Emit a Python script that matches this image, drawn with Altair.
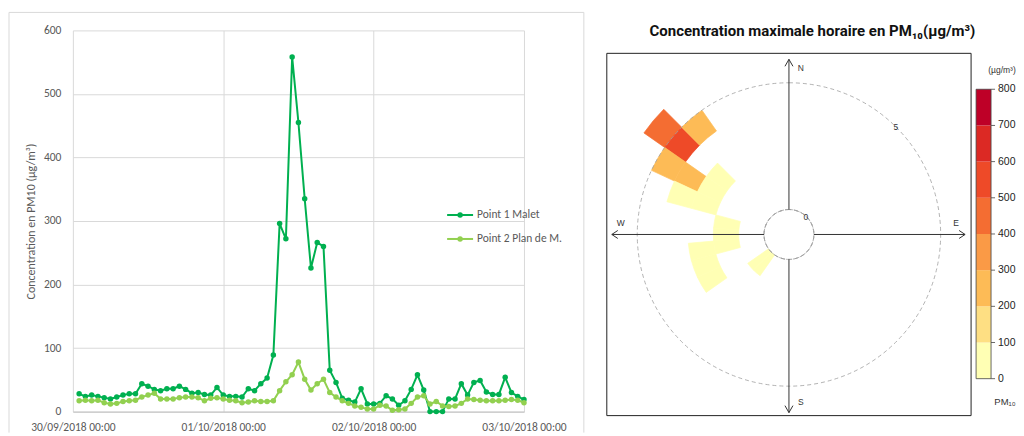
import math
import altair as alt
import pandas as pd

# ---------------- data ----------------
first_hour = "2018-09-30 01:00"
n_hours = 72
series_names = ["Point 1 Malet", "Point 2 Plan de M."]
series_colors = ["#00B050", "#92D050"]
malet = [28, 24, 26, 24, 22, 20, 23, 26, 28, 28, 44, 40, 35, 33, 36, 36, 40, 35, 29, 30, 27, 26, 38, 26,
         24, 24, 23, 36, 33, 44, 53, 89, 296, 272, 558, 455, 335, 226, 266, 260, 65, 46, 21, 18, 15, 36, 12, 12,
         13, 25, 20, 10, 17, 35, 58, 34, 0, 0, 0, 20, 20, 44, 26, 46, 49, 31, 27, 27, 54, 30, 24, 19]
plan = [17, 18, 17, 18, 14, 12, 13, 16, 17, 18, 23, 26, 29, 20, 20, 20, 22, 23, 23, 22, 17, 21, 22, 20,
        18, 17, 14, 15, 17, 16, 16, 17, 33, 47, 58, 78, 51, 34, 44, 51, 30, 23, 17, 13, 9, 7, 4, 4,
        10, 9, 2, 3, 4, 13, 23, 25, 12, 16, 9, 8, 9, 13, 20, 19, 18, 17, 17, 17, 18, 19, 18, 14]
y_ticks = [0, 100, 200, 300, 400, 500, 600]
day_ticks_md = [(9, 30), (10, 1), (10, 2), (10, 3)]

# polar (rose) cells: wind direction bin, wind speed bin, max hourly PM10
dir_lo = [305, 305, 315, 295, 295, 305, 295, 285, 285, 255, 265, 275, 235, 245, 255, 215, 225]
dir_hi = [315, 315, 325, 305, 305, 315, 305, 295, 295, 265, 275, 285, 245, 255, 265, 225, 235]
ws_lo = [5, 4, 4, 4, 3, 2, 2, 2, 3, 1, 1, 1, 2, 2, 2, 0, 0]
ws_hi = [6, 5, 5, 5, 4, 3, 3, 3, 4, 2, 2, 2, 3, 3, 3, 1, 1]
conc = [450, 550, 250, 250, 250, 50, 50, 50, 50, 50, 50, 50, 50, 50, 50, 50, 50]
ring_ws = [0, 5]
ring_labels = ["0", "5"]
class_breaks = [100, 200, 300, 400, 500, 600, 700]
class_colors = ["#FFFFB4", "#FEDF83", "#FDBB56", "#FA9A46", "#F46D32", "#EE4A28", "#DC2924", "#BE0027"]
cb_ticks = [0, 100, 200, 300, 400, 500, 600, 700, 800]

# ---------------- layout constants ----------------
W, H = 452, 382
CX, CY = 717.5, 204.5
FONT_XL = "Carlito, Calibri, Roboto, sans-serif"
FONT_R = "Liberation Sans, Arial, sans-serif"
GREY = "#595959"
DARK = "#333333"

times = pd.date_range(first_hour, periods=n_hours, freq="h").strftime("%Y-%m-%dT%H:%M:%S").tolist()
day_ticks = [alt.DateTime(year=2018, month=m, date=d) for (m, d) in day_ticks_md]
one = pd.DataFrame({"k": [0]})

x_enc = alt.X(
    "time:T", title=None,
    scale=alt.Scale(domain=[day_ticks[0], day_ticks[-1]]),
    axis=alt.Axis(values=day_ticks, format="%d/%m/%Y %H:%M", labelFont=FONT_XL, labelFontSize=11.5,
                  labelColor=GREY, ticks=False, labelPadding=10, grid=True, gridColor="#d9d9d9",
                  domainColor="#bfbfbf", labelFlush=False, labelOverlap=False),
)
y_axis = alt.Axis(values=y_ticks, grid=True, gridColor="#d9d9d9", domain=False, ticks=False,
                  labelPadding=12, labelFont=FONT_XL, labelFontSize=11.5, labelColor=GREY,
                  titleFont=FONT_XL, titleFontSize=12, titleColor=GREY, titleFontWeight="normal",
                  titlePadding=6)

layers = []


def rule(x1, y1, x2, y2, color=DARK, width=1.0):
    return alt.Chart(one).mark_rule(color=color, strokeWidth=width).encode(
        x=alt.value(x1), y=alt.value(y1), x2=alt.value(x2), y2=alt.value(y2))


def label(txt, x, y, size, font=FONT_R, color=DARK, align="center", weight="normal"):
    return alt.Chart(one).mark_text(text=txt, fontSize=size, font=font, color=color, align=align,
                                    baseline="middle", fontWeight=weight).encode(
        x=alt.value(x), y=alt.value(y))


# Excel chart-area border (left chart)
border_col = "#d9d9d9"
layers += [rule(-64, -18, 512, -18, border_col), rule(-64, -18, -64, 403, border_col),
           rule(512, -18, 512, 403, border_col)]

# line series
for i, (name, vals, col) in enumerate(zip(series_names, [malet, plan], series_colors)):
    df = pd.DataFrame({"time": times, "value": vals})
    y_enc = alt.Y("value:Q", scale=alt.Scale(domain=[0, 600]),
                  axis=(y_axis if i == 0 else None), title="Concentration en PM10 (µg/m³)")
    y_enc2 = alt.Y("value:Q", scale=alt.Scale(domain=[0, 600]), axis=None)
    layers.append(alt.Chart(df).mark_line(color=col, strokeWidth=2).encode(x=x_enc, y=y_enc))
    layers.append(alt.Chart(df).mark_circle(color=col, size=30, opacity=1).encode(x=x_enc, y=y_enc2))

# manual legend
for i, (name, col) in enumerate(zip(series_names, series_colors)):
    yy = 185 + 24 * i
    layers.append(rule(375, yy, 401, yy, col, 2))
    layers.append(alt.Chart(one).mark_circle(color=col, size=30, opacity=1).encode(
        x=alt.value(388), y=alt.value(yy)))
    layers.append(label(name, 405, yy, 11.5, FONT_XL, GREY, "left"))

# ---------------- polar panel ----------------
# box
layers.append(alt.Chart(one).mark_rect(fillOpacity=0, stroke="#222222", strokeWidth=1).encode(
    x=alt.value(535), x2=alt.value(900), y=alt.value(23), y2=alt.value(386)))
layers.append(label("Concentration maximale horaire en PM₁₀(µg/m³)", 741, 1, 15,
                    "Roboto, sans-serif", "#111111", "center", "bold"))

conc_scale = alt.Scale(type="threshold", domain=class_breaks, range=class_colors)
r_scale = alt.Scale(type="linear", domain=[0, 6], range=[25, 177.4], zero=False)
sect_df = pd.DataFrame({"dir_lo": dir_lo, "dir_hi": dir_hi, "ws_lo": ws_lo, "ws_hi": ws_hi, "conc": conc})
layers.append(alt.Chart(sect_df).mark_arc(strokeWidth=0.7).encode(
    theta=alt.Theta("dir_lo:Q", scale=alt.Scale(domain=[0, 360], range=[0, 2 * math.pi]), stack=False),
    theta2="dir_hi:Q",
    radius=alt.Radius("ws_hi:Q", scale=r_scale),
    radius2="ws_lo:Q",
    fill=alt.Fill("conc:Q", scale=conc_scale, legend=None),
    stroke=alt.Stroke("conc:Q", scale=conc_scale, legend=None),
    x=alt.value(CX), y=alt.value(CY),
))
layers.append(alt.Chart(pd.DataFrame({"ws": ring_ws})).mark_arc(
    theta=0, theta2=2 * math.pi, fillOpacity=0, stroke="#a0a0a0", strokeWidth=0.8, strokeDash=[4, 3]
).encode(radius=alt.Radius("ws:Q", scale=r_scale), x=alt.value(CX), y=alt.value(CY)))
layers.append(label(ring_labels[0], CX + 17, CY - 18, 8.5))
layers.append(label(ring_labels[1], CX + 107, CY - 108, 8.5))

# compass axes with arrows
r0 = 25
layers += [
    rule(CX, 29, CX, CY - r0), rule(CX, CY + r0, CX, 383),
    rule(540, CY, CX - r0, CY), rule(CX + r0, CY, 894, CY),
    rule(CX, 29, CX - 4, 36), rule(CX, 29, CX + 4, 36),
    rule(CX, 383, CX - 4, 376), rule(CX, 383, CX + 4, 376),
    rule(540, CY, 546, CY - 4), rule(540, CY, 546, CY + 4),
    rule(894, CY, 888, CY - 4), rule(894, CY, 888, CY + 4),
]
layers += [label("N", CX + 12, 38, 8.5), label("S", CX + 12, 372, 8.5),
           label("W", 549, 193, 8.5), label("E", 885, 193, 8.5)]

# colour bar
cb_y = alt.Scale(domain=[0, 800], range=[349, 59])
cb_df = pd.DataFrame({"lo": cb_ticks[:-1], "hi": cb_ticks[1:]})
layers.append(alt.Chart(cb_df).mark_rect().encode(
    x=alt.value(905), x2=alt.value(920),
    y=alt.Y("lo:Q", scale=cb_y, axis=None), y2="hi:Q",
    fill=alt.Fill("lo:Q", scale=conc_scale, legend=None)))
layers.append(alt.Chart(pd.DataFrame({"lo": [cb_ticks[0]], "hi": [cb_ticks[-1]]})).mark_rect(
    fillOpacity=0, stroke="#444444", strokeWidth=0.8).encode(
    x=alt.value(905), x2=alt.value(920), y=alt.Y("lo:Q", scale=cb_y, axis=None), y2="hi:Q"))
tick_df = pd.DataFrame({"v": cb_ticks})
layers.append(alt.Chart(tick_df).mark_rule(color="#444444", strokeWidth=0.8).encode(
    x=alt.value(920), x2=alt.value(924), y=alt.Y("v:Q", scale=cb_y, axis=None)))
layers.append(alt.Chart(tick_df).mark_text(align="left", baseline="middle", fontSize=10.5, font=FONT_R,
                                           color="#222222").encode(
    x=alt.value(927), y=alt.Y("v:Q", scale=cb_y, axis=None), text="v:Q"))
layers.append(label("(µg/m³)", 931, 40, 8.5))
layers.append(label("PM₁₀", 934, 372, 9.5))

chart = alt.layer(*layers).resolve_scale(y="independent").properties(
    width=W, height=H, padding={"left": 0, "top": 3, "right": 0, "bottom": 0}
).configure_view(strokeWidth=0)

chart.save("out.html", embed_options={"renderer": "svg", "actions": False})
